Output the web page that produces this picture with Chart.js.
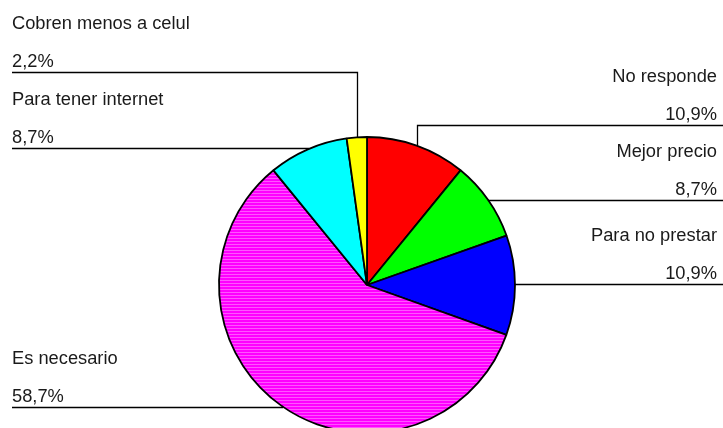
<!DOCTYPE html>
<html>
<head>
<meta charset="utf-8">
<script src="https://cdn.jsdelivr.net/npm/chart.js@4.4.1/dist/chart.umd.min.js"></script>
<style>
  html, body { margin: 0; padding: 0; background: #fff; overflow: hidden; }
  #wrap { width: 723px; height: 428px; overflow: hidden; }
</style>
</head>
<body>
<div id="wrap"><canvas id="pieChart" width="723" height="570"></canvas></div>
<script>
// Datos del gráfico
const categorias = ['No responde', 'Mejor precio', 'Para no prestar', 'Es necesario', 'Para tener internet', 'Cobren menos a celul'];
const porcentajes = [10.9, 8.7, 10.9, 58.7, 8.7, 2.2];
const colores = ['#FF0000', '#00FF00', '#0000FF', '#FF00FF', '#00FFFF', '#FFFF00'];

// Posición de cada etiqueta: lado y altura de la línea guía
const etiquetas = [
    { side: 'right', lineY: 125.5 },
    { side: 'right', lineY: 200.5 },
    { side: 'right', lineY: 284.5 },
    { side: 'left', lineY: 407.5 },
    { side: 'left', lineY: 148.5 },
    { side: 'left', lineY: 72.5 }
];

// Textura rayada para el sector magenta
function magentaPattern() {
    const c = document.createElement('canvas');
    c.width = 8; c.height = 6;
    const g = c.getContext('2d');
    g.fillStyle = '#FF00FF';
    g.fillRect(0, 0, 8, 6);
    g.fillStyle = '#FF55FF';
    g.fillRect(0, 1, 8, 1);
    g.fillRect(0, 4, 8, 1);
    return g.createPattern(c, 'repeat');
}

const fondo = colores.slice();
fondo[3] = magentaPattern();

function formatPct(v) {
    return v.toFixed(1).replace('.', ',') + '%';
}

const etiquetasPlugin = {
    id: 'etiquetas',
    afterDraw(chart) {
        const ctx = chart.ctx;
        const arcs = chart.getDatasetMeta(0).data;
        ctx.save();
        ctx.font = '18.3px "Liberation Sans", Arial, sans-serif';
        ctx.strokeStyle = '#000';
        ctx.lineWidth = 1.3;
        arcs.forEach((arc, i) => {
            const p = arc.getProps(['x', 'y', 'startAngle', 'endAngle', 'outerRadius'], true);
            const mid = (p.startAngle + p.endAngle) / 2;
            const px = p.x + Math.cos(mid) * p.outerRadius;
            const py = p.y + Math.sin(mid) * p.outerRadius;
            const lab = etiquetas[i];
            const right = lab.side === 'right';
            const endX = right ? 723 : 12;
            const textX = right ? 717 : 12;

            ctx.beginPath();
            ctx.moveTo(Math.round(px) + 0.5, py);
            ctx.lineTo(Math.round(px) + 0.5, lab.lineY);
            ctx.lineTo(endX, lab.lineY);
            ctx.stroke();

            ctx.fillStyle = '#1a1a1a';
            ctx.textAlign = right ? 'right' : 'left';
            ctx.textBaseline = 'alphabetic';
            ctx.fillText(categorias[i], textX, lab.lineY - 43.5);
            ctx.fillText(formatPct(porcentajes[i]), textX, lab.lineY - 6);
        });
        ctx.restore();
    }
};

new Chart(document.getElementById('pieChart'), {
    type: 'pie',
    data: {
        labels: categorias,
        datasets: [{
            data: porcentajes,
            backgroundColor: fondo,
            borderColor: '#000',
            borderWidth: 1.8
        }]
    },
    options: {
        responsive: false,
        animation: false,
        radius: 148,
        layout: { padding: { left: 11 } },
        plugins: {
            legend: { display: false },
            tooltip: { enabled: false }
        }
    },
    plugins: [etiquetasPlugin]
});
</script>
</body>
</html>
